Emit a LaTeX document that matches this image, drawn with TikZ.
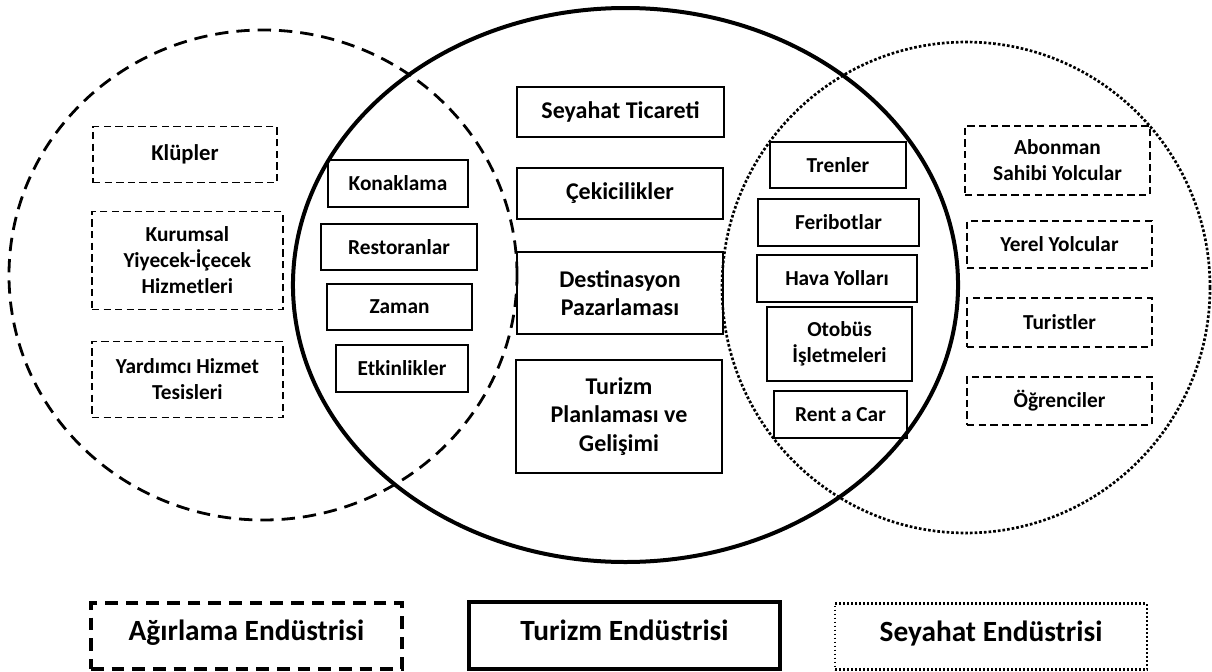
\documentclass[tikz,border=0pt]{standalone}
\usepackage{fontspec}
\setmainfont{Carlito}
\begin{document}
\begin{tikzpicture}[x=0.75pt,y=-0.75pt,
  wh/.style 2 args={minimum width=#1*0.75pt, minimum height=#2*0.75pt},
  basebox/.style={inner sep=0pt, align=center, font=\bfseries\fontsize{16}{19.5}\selectfont},
  solidbox/.style={basebox, draw, line width=1.5pt},
  dashbox/.style={basebox, draw, line width=1.1pt, dash pattern=on 5.5pt off 3.2pt},
  centrebox/.style={solidbox, font=\bfseries\fontsize{18}{21.5}\selectfont},
  legendbox/.style={basebox, text height=13pt, text depth=6.2pt, font=\bfseries\fontsize{22}{26}\selectfont},
  hospitality/.style={line width=2.1pt, dash pattern=on 10pt off 6pt},
  tourism/.style={line width=3pt},
  travel/.style={line width=2pt, dash pattern=on 2pt off 1.5pt},
]
\useasboundingbox (0,0) rectangle (1212,671);

% the three industry circles
\draw[hospitality] (263,275) ellipse [x radius=190.5pt, y radius=183.75pt];
\draw[tourism] (625.5,285) ellipse [x radius=249.4pt, y radius=207.75pt];
\draw[travel] (966,287.5) ellipse [x radius=183pt, y radius=184.1pt];

% hospitality-only items
\node[dashbox, wh={184}{56}, font=\bfseries\fontsize{17}{20}\selectfont] (klup) at (185,154.7) {Klüpler};
\node[dashbox, wh={191}{97.5}] (kurum) at (187.4,260.5) {Kurumsal\\Yiyecek-İçecek\\Hizmetleri};
\node[dashbox, wh={191}{75.5}] (yard) at (187.4,379.5) {Yardımcı Hizmet\\Tesisleri};

% hospitality and tourism
\node[solidbox, wh={140}{47}] (kon) at (398,183.5) {Konaklama};
\node[solidbox, wh={156}{46}] (rest) at (399,247) {Restoranlar};
\node[solidbox, wh={145}{46}] (zam) at (399.5,307) {Zaman};
\node[solidbox, wh={132}{47}] (etk) at (402,368.5) {Etkinlikler};

% tourism core
\node[centrebox, wh={207}{50}] (sey) at (620.5,112) {Seyahat Ticareti};
\node[centrebox, wh={206}{51}] (cek) at (620,193.5) {Çekicilikler};
\node[centrebox, wh={206}{82}] (dest) at (620,293) {Destinasyon\\Pazarlaması};
\node[centrebox, wh={206}{113}] (plan) at (619,416.5) {Turizm\\Planlaması ve\\Gelişimi};

% tourism and travel
\node[solidbox, wh={136}{46}] (tren) at (838,165) {Trenler};
\node[solidbox, wh={161}{47}] (feri) at (838.5,222.5) {Feribotlar};
\node[solidbox, wh={160}{47}] (hava) at (837,278.5) {Hava Yolları};
\node[solidbox, wh={145}{74}] (otob) at (839.5,344) {Otobüs\\İşletmeleri};
\node[solidbox, wh={133}{47}] (rent) at (840.5,414.5) {Rent a Car};

% travel-only items
\node[dashbox, wh={185}{69}] (abon) at (1057.5,160.5) {Abonman\\Sahibi Yolcular};
\node[dashbox, wh={185}{47}] (yerel) at (1059.5,244.5) {Yerel Yolcular};
\node[dashbox, wh={185}{49}] (turist) at (1059.5,322.5) {Turistler};
\node[dashbox, wh={185}{48}] (ogr) at (1059.5,401) {Öğrenciler};

% legend
\node[legendbox, draw, line width=2.3pt, dash pattern=on 9.5pt off 6pt, wh={311}{66}] (lg1) at (246.5,636) {Ağırlama Endüstrisi};
\node[legendbox, draw, line width=2.3pt, wh={311}{67}] (lg2) at (624.5,635.5) {Turizm Endüstrisi};
\node[legendbox, draw, line width=2pt, dash pattern=on 1.4pt off 1.6pt, wh={312}{66}] (lg3) at (991,636.5) {Seyahat Endüstrisi};
\end{tikzpicture}
\end{document}
